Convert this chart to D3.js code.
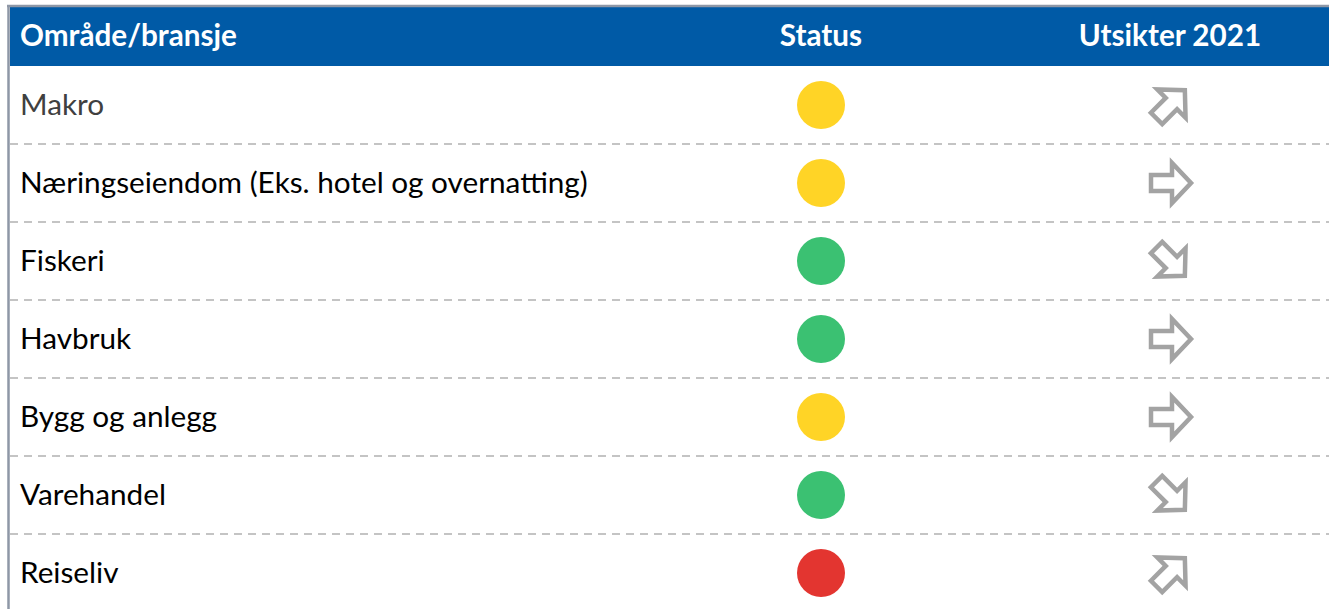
<!DOCTYPE html>
<html>
<head>
<meta charset="utf-8">
<script src="https://cdn.jsdelivr.net/npm/d3@7"></script>
<style>
  body { margin: 0; background: #fff; }
  svg { display: block; }
</style>
</head>
<body>
<svg></svg>
<script>
// table data
const headers = ['Område/bransje', 'Status', 'Utsikter 2021'];
const categories = ['Makro', 'Næringseiendom (Eks. hotel og overnatting)', 'Fiskeri', 'Havbruk', 'Bygg og anlegg', 'Varehandel', 'Reiseliv'];
const status = ['gul', 'gul', 'grønn', 'grønn', 'gul', 'grønn', 'rød'];
const outlook = ['opp', 'flat', 'ned', 'flat', 'flat', 'ned', 'opp'];

const WIDTH = 1329;
const HEIGHT = 609;
const LEFT = 10;
const HEAD_TOP = 7;
const HEAD_BOTTOM = 66;
const FONT = 'Lato, "Open Sans", sans-serif';

let svg = d3.select('svg').attr('width', WIDTH).attr('height', HEIGHT);

let yScale = d3.scaleBand().domain(categories).range([HEAD_BOTTOM, HEAD_BOTTOM + 78 * categories.length]);
let xScale = d3.scaleOrdinal().domain(headers).range([20, 821, 1170]);

let colour = d3.scaleOrdinal().domain(['gul', 'grønn', 'rød']).range(['#FFD426', '#3BC172', '#E33530']);
let angle = d3.scaleOrdinal().domain(['opp', 'flat', 'ned']).range([-45, 0, 45]);

// frame
svg.append('rect').attr('x', LEFT).attr('y', HEAD_TOP).attr('width', WIDTH - LEFT).attr('height', HEAD_BOTTOM - HEAD_TOP).style('fill', '#005AA6');
svg.append('line').attr('x1', 7).attr('x2', WIDTH).attr('y1', 6).attr('y2', 6).style('stroke', '#8E97A6').style('stroke-width', 2.5);
svg.append('line').attr('x1', 8.5).attr('x2', 8.5).attr('y1', 5).attr('y2', HEIGHT).style('stroke', '#8E97A6').style('stroke-width', 2.5);

// fit a font size so a text gets a given width
function fitSize(text, width, weight) {
    let t = svg.append('text').style('font-family', FONT).style('font-weight', weight).style('font-size', '100px').text(text);
    let w = t.node().getComputedTextLength();
    t.remove();
    return 100 * width / w;
}
const headSize = fitSize(headers[0], 217, 'bold');
const bodySize = fitSize(categories[1], 568, 'normal');

// header texts
svg.selectAll('.head').data(headers).join('text')
    .attr('class', 'head')
    .attr('x', d => xScale(d))
    .attr('y', 46)
    .attr('text-anchor', (d, i) => i == 0 ? 'start' : 'middle')
    .style('font-family', FONT).style('font-weight', 'bold').style('font-size', headSize + 'px')
    .style('fill', '#fff')
    .text(d => d);

// dashed row separators
svg.selectAll('.sep').data(categories.slice(1)).join('line')
    .attr('class', 'sep')
    .attr('x1', LEFT).attr('x2', WIDTH)
    .attr('y1', d => yScale(d)).attr('y2', d => yScale(d))
    .style('stroke', '#C4C4C4').style('stroke-width', 2).style('stroke-dasharray', '8,6');

// row labels
svg.selectAll('.label').data(categories).join('text')
    .attr('class', 'label')
    .attr('x', xScale(headers[0]))
    .attr('y', d => yScale(d) + yScale.bandwidth() / 2 + 10)
    .style('font-family', FONT).style('font-size', bodySize + 'px')
    .style('fill', (d, i) => i == 0 ? '#404040' : '#000')
    .text(d => d);

// status lights
svg.selectAll('.status').data(categories).join('circle')
    .attr('class', 'status')
    .attr('cx', xScale(headers[1]))
    .attr('cy', d => yScale(d) + yScale.bandwidth() / 2)
    .attr('r', 24)
    .style('fill', (d, i) => colour(status[i]));

// outlook arrows
const arrow = 'M-19,-8 L2,-8 L2,-20 L21,0 L2,20 L2,8 L-19,8 Z';
svg.selectAll('.arrow').data(categories).join('path')
    .attr('class', 'arrow')
    .attr('d', arrow)
    .attr('transform', (d, i) => `translate(${xScale(headers[2])},${yScale(d) + yScale.bandwidth() / 2}) rotate(${angle(outlook[i])})`)
    .style('fill', '#fff').style('stroke', '#A3A3A3').style('stroke-width', 4.5);
</script>
</body>
</html>
